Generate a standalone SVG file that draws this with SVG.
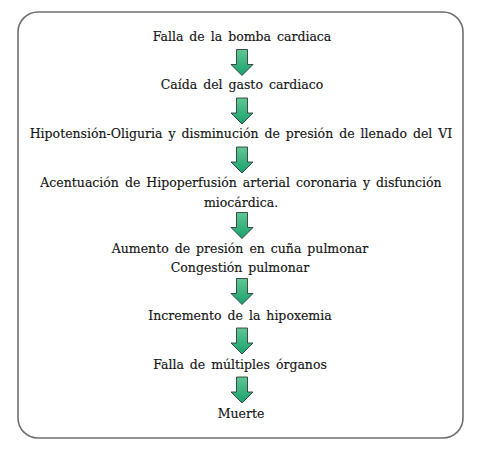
<svg xmlns="http://www.w3.org/2000/svg" width="480" height="456" viewBox="0 0 480 456">
  <style>
    .t { font-family: "DejaVu Serif", "Liberation Serif", serif; font-size: 12.5px; word-spacing: 2px; fill: #151515; stroke: #151515; stroke-width: 0.15; text-anchor: middle; }
    .arr { fill: url(#g); stroke: #2e3d38; stroke-width: 0.9; stroke-linejoin: miter; }
  </style>
  <defs>
    <linearGradient id="g" x1="0" y1="0" x2="0" y2="1">
      <stop offset="0" stop-color="#62c794"/>
      <stop offset="1" stop-color="#17a06c"/>
    </linearGradient>
    <path id="ar" class="arr" d="M-5.5,0 H5.5 V15 H11 L0,26 L-11,15 H-5.5 Z"/>
  </defs>
  <rect x="0" y="0" width="480" height="456" fill="#ffffff"/>
  <rect x="18" y="12" width="445" height="426" rx="20" ry="20" fill="#ffffff" stroke="#6f6f6f" stroke-width="1.6"/>
  <g id="connectors">
    <use href="#ar" x="242" y="49.5"/>
    <use href="#ar" x="242" y="98"/>
    <use href="#ar" x="242" y="147"/>
    <use href="#ar" x="242" y="212.5"/>
    <use href="#ar" x="242" y="278.5"/>
    <use href="#ar" x="242" y="328"/>
    <use href="#ar" x="242" y="377"/>
  </g>
  <g id="n1"><text class="t" x="242" y="41">Falla de la bomba cardiaca</text></g>
  <g id="n2"><text class="t" x="242" y="89">Caída del gasto cardiaco</text></g>
  <g id="n3"><text class="t" x="241" y="138">Hipotensión-Oliguria y disminución de presión de llenado del VI</text></g>
  <g id="n4">
    <text class="t" x="241" y="187">Acentuación de Hipoperfusión arterial coronaria y disfunción</text>
    <text class="t" x="241" y="207">miocárdica.</text>
  </g>
  <g id="n5">
    <text class="t" x="240" y="253">Aumento de presión en cuña pulmonar</text>
    <text class="t" x="240" y="272">Congestión pulmonar</text>
  </g>
  <g id="n6"><text class="t" x="240" y="320">Incremento de la hipoxemia</text></g>
  <g id="n7"><text class="t" x="240" y="369">Falla de múltiples órganos</text></g>
  <g id="n8"><text class="t" x="241" y="418">Muerte</text></g>
</svg>
